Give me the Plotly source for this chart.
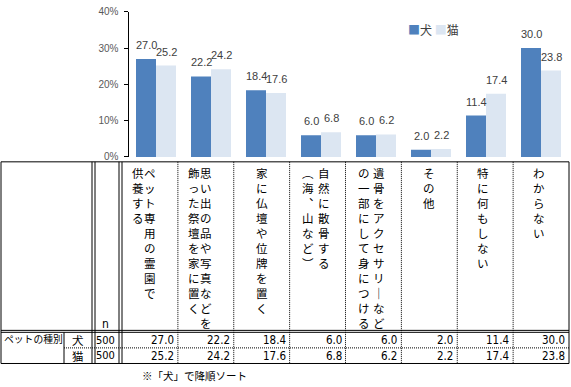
import plotly.graph_objects as go

W, H = 571, 387

categories = [
    "ペット専用の霊園で供養する",
    "思い出の品や写真などを飾った祭壇を家に置く",
    "家に仏壇や位牌を置く",
    "自然に散骨する（海、山など）",
    "遺骨をアクセサリーなどの一部にして身につける",
    "その他",
    "特に何もしない",
    "わからない",
]
# header text as vertical columns (right column first)
header_columns = [
    ["ペット専用の霊園で", "供養する"],
    ["思い出の品や写真などを", "飾った祭壇を家に置く"],
    ["家に仏壇や位牌を置く"],
    ["自然に散骨する", "︵海︑山など︶"],
    ["遺骨をアクセサリ｜など", "の一部にして身につける"],
    ["その他"],
    ["特に何もしない"],
    ["わからない"],
]
series_names = ["犬", "猫"]
dog = [27.0, 22.2, 18.4, 6.0, 6.0, 2.0, 11.4, 30.0]
cat = [25.2, 24.2, 17.6, 6.8, 6.2, 2.2, 17.4, 23.8]
n_values = [500, 500]
y_ticks = [0, 10, 20, 30, 40]
y_tick_labels = [f"{v}%" for v in y_ticks]
row_label = "ペットの種別"
note = "※「犬」で降順ソート"

DOG_COLOR = "#4F81BD"
CAT_COLOR = "#DCE6F2"
JP = "Noto Sans CJK JP"
NUM = "Liberation Sans Narrow, DejaVu Sans Condensed, Arial Narrow, sans-serif"


def px(x):
    return x / W


def py(y):
    return 1 - y / H


fig = go.Figure()
fig.add_trace(go.Bar(x=categories, y=dog, name=series_names[0],
                     marker=dict(color=DOG_COLOR, line=dict(width=0))))
fig.add_trace(go.Bar(x=categories, y=cat, name=series_names[1],
                     marker=dict(color=CAT_COLOR, line=dict(width=0))))

annotations = []
# data labels
for vals, shift in ((dog, -10), (cat, 10)):
    for c, v in zip(categories, vals):
        annotations.append(dict(x=c, y=v, xref="x", yref="y", text=f"{v:.1f}",
                                showarrow=False, xshift=shift, yshift=6,
                                yanchor="bottom", xanchor="center",
                                font=dict(family="Liberation Sans, Arial, sans-serif",
                                          size=11, color="#404040")))
# legend as text
annotations.append(dict(
    x=px(406), y=py(25), xref="paper", yref="paper", xanchor="left", yanchor="middle",
    showarrow=False,
    text=(f"<span style='color:{DOG_COLOR}'>■</span>{series_names[0]} "
          f"<span style='color:{CAT_COLOR}'>■</span>{series_names[1]}"),
    font=dict(family=JP, size=12, color="#404040")))

# ---------------- table ----------------
shapes = []
L, R, T, B = 1, 569, 161, 368
HB1, HB2 = 334, 336
ROWSEP = 352
C0 = 122
CW = (R - C0) / len(categories)


def line(x0, y0, x1, y1, dash="solid"):
    shapes.append(dict(type="line", xref="paper", yref="paper",
                       x0=px(x0), y0=py(y0), x1=px(x1), y1=py(y1),
                       line=dict(color="black", width=1, dash=dash)))


line(L, T, R, T)
line(L, B, R, B)
line(L, T, L, B)
line(R, T, R, B)
line(L, HB1, R, HB1)
line(L, HB2, R, HB2)
for x in (92, 95, 119, 122):
    line(x, T, x, B)
line(64, HB2, 64, B)
line(64, ROWSEP, R, ROWSEP, dash="1px,1px")
for k in range(1, len(categories)):
    line(C0 + CW * k, T, C0 + CW * k, B, dash="1px,1px")

# header vertical texts
col_offsets = [[0, -12], [0, -12], [0], [6, -10], [6, -9], [0], [-2], [-2]]
for k, cols in enumerate(header_columns):
    cx = C0 + CW * (k + 0.5)
    for j, txt in enumerate(cols):
        annotations.append(dict(
            x=px(cx + col_offsets[k][j]), y=py(162), xref="paper", yref="paper",
            xanchor="center", yanchor="top", showarrow=False, align="center",
            text="<br>".join(list(txt)),
            font=dict(family=JP, size=11.5, color="black")))

annotations.append(dict(x=px(106), y=py(327), xref="paper", yref="paper",
                        xanchor="center", yanchor="middle", showarrow=False,
                        text="n", font=dict(family=NUM, size=12, color="black")))
annotations.append(dict(x=px(2), y=py(343), xref="paper", yref="paper",
                        xanchor="left", yanchor="middle", showarrow=False,
                        text=row_label, font=dict(family=JP, size=9.8, color="black")))
row_centers = [344, 360]
for r, (name, vals) in enumerate(zip(series_names, (dog, cat))):
    yc = row_centers[r]
    annotations.append(dict(x=px(78), y=py(yc), xref="paper", yref="paper",
                            xanchor="center", yanchor="middle", showarrow=False,
                            text=name, font=dict(family=JP, size=11.5, color="black")))
    annotations.append(dict(x=px(117), y=py(yc), xref="paper", yref="paper",
                            xanchor="right", yanchor="middle", showarrow=False,
                            text=str(n_values[r]),
                            font=dict(family=NUM, size=11, color="black")))
    for k, v in enumerate(vals):
        annotations.append(dict(x=px(C0 + CW * (k + 1) - 2), y=py(yc),
                                xref="paper", yref="paper",
                                xanchor="right", yanchor="middle", showarrow=False,
                                text=f"{v:.1f}",
                                font=dict(family=NUM, size=11.5, color="black")))

annotations.append(dict(x=px(140), y=py(380), xref="paper", yref="paper",
                        xanchor="left", yanchor="middle", showarrow=False,
                        text=note, font=dict(family=JP, size=10.5, color="black")))

fig.update_layout(
    width=W, height=H, autosize=False,
    margin=dict(l=0, r=0, t=0, b=0, pad=0),
    paper_bgcolor="white", plot_bgcolor="white",
    barmode="group", bargap=15 / 55, bargroupgap=0,
    showlegend=False,
    xaxis=dict(domain=[px(128.5), px(568.5)], range=[-0.5, 7.5],
               showticklabels=False, showline=False, ticks="", showgrid=False,
               zeroline=False, fixedrange=True),
    yaxis=dict(domain=[py(156), py(7)], range=[0, 40], tickmode="array",
               tickvals=y_ticks, ticktext=y_tick_labels,
               showline=True, linecolor="black", linewidth=1,
               ticks="outside", ticklen=4, tickcolor="black", showgrid=False,
               zeroline=False, ticklabelstandoff=3,
               tickfont=dict(family="Liberation Sans, Arial, sans-serif",
                             size=10, color="#595959")),
    shapes=shapes,
    annotations=annotations,
)

fig.write_html("out.html", config={"displayModeBar": False},
               post_script="document.body.style.margin='0';document.body.style.padding='0';")
